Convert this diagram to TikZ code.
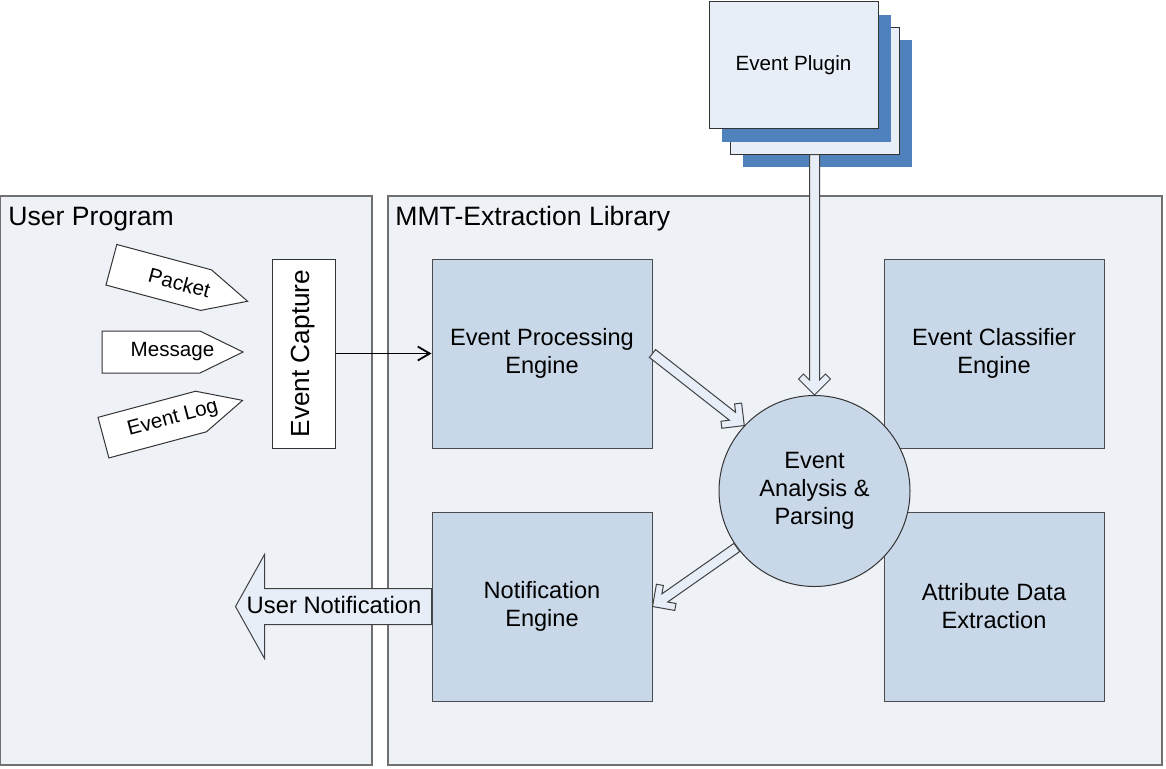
\documentclass[tikz,border=0pt]{standalone}
\usepackage{fontspec}
\setmainfont{Liberation Sans}
\usepackage{tikz}
\usetikzlibrary{arrows.meta,calc}

\definecolor{panelfill}{RGB}{238,242,247}
\definecolor{enginefill}{RGB}{201,216,232}
\definecolor{pluginfill}{RGB}{232,238,248}
\definecolor{pluginblue}{RGB}{79,129,189}
\definecolor{framegray}{RGB}{112,112,112}

\tikzset{
  panel/.style={draw=framegray, fill=panelfill, line width=0.6pt},
  title/.style={anchor=base west, inner sep=0pt, font=\fontsize{13.3}{16}\selectfont},
  engine/.style={draw=black!70, fill=enginefill, line width=0.5pt, minimum width=110pt, minimum height=94.5pt, align=center, font=\fontsize{11.8}{14}\selectfont},
  hub/.style={circle, draw=black!80, fill=enginefill, line width=0.5pt, minimum size=95.5pt, inner sep=0pt, align=center, font=\fontsize{11.8}{14}\selectfont},
  capture/.style={draw=black!80, fill=white, line width=0.5pt, rotate=90, minimum width=94.5pt, minimum height=31.5pt, inner sep=0pt, font=\fontsize{13.1}{15}\selectfont},
  plugin/.style={minimum width=84.5pt, minimum height=63.5pt, line width=0.5pt, font=\fontsize{10.3}{12}\selectfont},
  tag/.style={draw=black!80, fill=white, line width=0.5pt},
  tagtext/.style={transform shape, inner sep=0pt, font=\fontsize{10.3}{12}\selectfont},
  hollow/.style={draw=black!75, fill=pluginfill, line width=0.5pt},
  flow/.style={line width=0.9pt, -{Straight Barb[length=6pt,width=7pt]}}
}

% open double arrow from #1 to #2
\newcommand{\hollowarrow}[2]{%
  \draw[hollow] let \p1=(#1), \p2=(#2), \n1={atan2(\y2-\y1,\x2-\x1)} in
    ($(\p1)+(\n1+90:2.5pt)$) -- ($(\p2)+(\n1:-7.5pt)+(\n1+90:2.5pt)$)
    -- ($(\p2)+(\n1:-10.5pt)+(\n1+90:5.5pt)$) -- ($(\p2)+(\n1:-8pt)+(\n1+90:8pt)$)
    -- (\p2) -- ($(\p2)+(\n1:-8pt)+(\n1-90:8pt)$)
    -- ($(\p2)+(\n1:-10.5pt)+(\n1-90:5.5pt)$) -- ($(\p2)+(\n1:-7.5pt)+(\n1-90:2.5pt)$)
    -- ($(\p1)+(\n1-90:2.5pt)$) -- cycle;}

\begin{document}
\begin{tikzpicture}[x=0.5pt, y=-0.5pt]
\useasboundingbox (0,0) rectangle (1166,768);

% panels
\draw[panel] (0,196) rectangle (372,765);
\draw[panel] (388,196) rectangle (1162,765);
\node[title] (usertitle) at (8,225) {User Program};
\node[title] (libtitle) at (395,225) {MMT-Extraction Library};

% plugin stack
\node[plugin, fill=pluginblue] (plugd) at (827,103) {};
\node[plugin, draw=black!80, fill=pluginfill] (plugc) at (814.5,90.5) {};
\node[plugin, fill=pluginblue] (plugb) at (806.5,78) {};
\node[plugin, draw=black!80, fill=pluginfill] (pluga) at (793.5,65) {Event Plugin};

% engines
\node[engine] (epe) at (542,353.5) {Event Processing\\Engine};
\node[engine] (ece) at (994,353.5) {Event Classifier\\Engine};
\node[engine] (ne) at (542,606.5) {Notification\\Engine};
\node[engine] (ade) at (994,606.5) {Attribute Data\\Extraction};
\node[hub] (eap) at (814.5,491) {Event\\Analysis \&\\Parsing};

% event sources
\node[capture] (cap) at (303.5,353.5) {Event Capture};
\begin{scope}[shift={(179.5,283)}, rotate=-15]
\draw[tag] (-70.5,-21) -- (27.5,-21) -- (70.5,0) -- (27.5,21) -- (-70.5,21) -- cycle;
\node[tagtext] (packet) at (0,0) {Packet};
\end{scope}
\begin{scope}[shift={(172.5,352)}]
\draw[tag] (-70.5,-21) -- (27.5,-21) -- (70.5,0) -- (27.5,21) -- (-70.5,21) -- cycle;
\node[tagtext] (message) at (0,0) {Message};
\end{scope}
\begin{scope}[shift={(173,419)}, rotate=15]
\draw[tag] (-72,-21) -- (29,-21) -- (72,0) -- (29,21) -- (-72,21) -- cycle;
\node[tagtext] (eventlog) at (0,0) {Event Log};
\end{scope}

% connectors
\draw[flow] (cap.south) -- (epe.west);
\hollowarrow{plugc.south}{eap.north}
\hollowarrow{epe.east}{eap.137}
\hollowarrow{eap.216}{ne.east}

% user notification
\draw[hollow] ($(ne.west)+(0,-18)$) -- ++(-167,0) -- ++(0,-34) -- ++(-29,52)
  -- ++(29,52) -- ++(0,-34) -- ++(167,0) -- cycle;
\node[font=\fontsize{11.9}{14}\selectfont] (unote) at (334,605) {User Notification};
\end{tikzpicture}
\end{document}
